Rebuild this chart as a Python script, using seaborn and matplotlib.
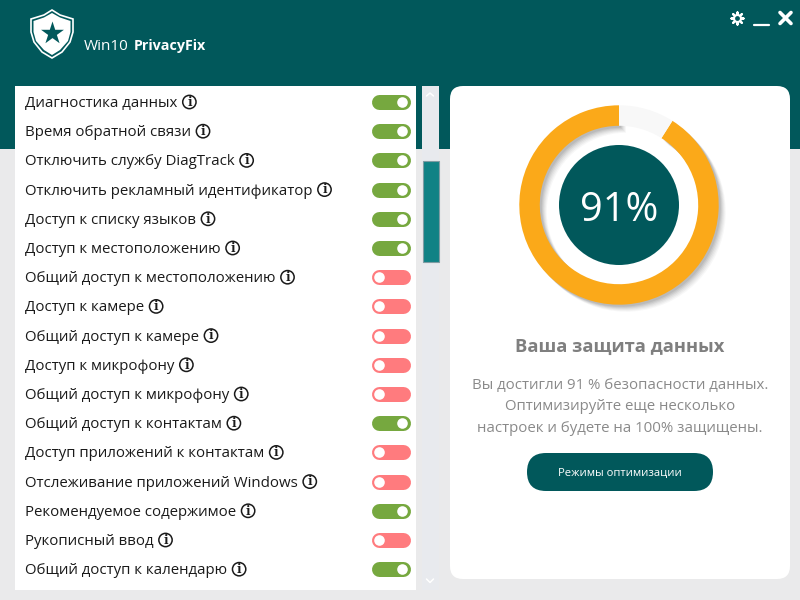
import pandas as pd
import seaborn as sns
import matplotlib.pyplot as plt
from matplotlib.patches import FancyBboxPatch, Polygon, Rectangle, Circle

# Data
SETTINGS = [
    "Диагностика данных",
    "Время обратной связи",
    "Отключить службу DiagTrack",
    "Отключить рекламный идентификатор",
    "Доступ к списку языков",
    "Доступ к местоположению",
    "Общий доступ к местоположению",
    "Доступ к камере",
    "Общий доступ к камере",
    "Доступ к микрофону",
    "Общий доступ к микрофону",
    "Общий доступ к контактам",
    "Доступ приложений к контактам",
    "Отслеживание приложений Windows",
    "Рекомендуемое содержимое",
    "Рукописный ввод",
    "Общий доступ к календарю",
]
ENABLED = [1, 1, 1, 1, 1, 1, 0, 0, 0, 0, 0, 1, 0, 0, 1, 0, 1]
SCORE = [91, 9]
SCORE_LABEL = "91%"
BODY_LINES = [
    "Вы достигли 91 % безопасности данных.",
    "Оптимизируйте еще несколько",
    "настроек и будете на 100% защищены.",
]

TEAL = "#01585B"
ORANGE = "#FBA919"
GREEN = "#76A83F"
RED = "#FF7B7E"
GREY_BG = "#EAEAEB"
TRACK = "#E8EAEE"
THUMB = "#108285"
TEXT_GREY = "#7F7F7F"

sns.set_theme(style="white")
plt.rcParams["font.family"] = ["Open Sans", "Noto Sans", "DejaVu Sans"]

fig = plt.figure(figsize=(8, 6), dpi=100, facecolor=GREY_BG)

# Background layer, in screen pixels
bg = fig.add_axes([0, 0, 1, 1], zorder=0)
bg.set_xlim(0, 800)
bg.set_ylim(600, 0)
bg.axis("off")
bg.add_patch(Rectangle((0, 0), 800, 149, color=TEAL, lw=0))
bg.add_patch(Rectangle((15, 86), 401, 504, color="white", lw=0))
bg.add_patch(Rectangle((422, 86), 17, 504, color=TRACK, lw=0))
bg.add_patch(Rectangle((422.5, 161), 16.5, 101, facecolor=THUMB, edgecolor="#7F9CA3", lw=0.8))
bg.add_patch(FancyBboxPatch((462, 98), 316, 469, boxstyle="round,pad=12,rounding_size=13",
                            facecolor="white", edgecolor="none"))

# Scroll arrows
bg.plot([426.5, 430, 433.5], [96, 93, 96], color="white", lw=1.1)
bg.plot([426.5, 430, 433.5], [579, 582.5, 579], color="white", lw=1.1)

# Logo
shield = [(52, 10), (60, 15), (73, 19), (73, 32), (70, 42), (62, 52), (52, 58),
          (42, 52), (34, 42), (31, 32), (31, 19), (44, 15)]
inner = [(52, 13), (60, 17.5), (70.5, 21), (70.5, 32), (68, 41), (60, 50), (52, 55),
         (44, 50), (36, 41), (33.5, 32), (33.5, 21), (44, 17.5)]
bg.add_patch(Polygon(shield, closed=True, facecolor="none", edgecolor="white", lw=1.2))
bg.add_patch(Polygon(inner, closed=True, facecolor="white", edgecolor="none"))
bg.scatter([52], [33], marker="*", s=300, color=TEAL, lw=0, zorder=4)
bg.text(84, 46, "Win10", color="white", fontsize=11, va="center")
bg.text(134, 46, "PrivacyFix", color="white", fontsize=10.3, va="center", fontweight="bold")

# Window buttons
bg.scatter([737], [18], s=75, marker=(8, 2, 0), color="white", lw=1.6, zorder=3)
bg.scatter([737], [18], s=42, marker="o", color="white", lw=0, zorder=4)
bg.scatter([737], [18], s=12, marker="o", color=TEAL, lw=0, zorder=5)
bg.plot([754, 769], [24.5, 24.5], color="white", lw=1.6)
bg.plot([780, 791], [12.5, 23.5], color="white", lw=2.6)
bg.plot([780, 791], [23.5, 12.5], color="white", lw=2.6)

# Right card text
bg.text(620, 347, "Ваша защита данных", color=TEXT_GREY, fontsize=13.2,
        fontweight="bold", ha="center", va="center")
for line, y in zip(BODY_LINES, [386, 407, 428]):
    bg.text(620, y, line, color="#8A8A8A", fontsize=10.8, ha="center", va="center")
bg.add_patch(FancyBboxPatch((546, 472), 148, 0, boxstyle="round,pad=19,rounding_size=19",
                            facecolor=TEAL, edgecolor="none"))
bg.text(620, 473, "Режимы оптимизации", color="white", fontsize=8.15, ha="center", va="center")

# Settings list: y axis counts rows
settings = pd.DataFrame({"label": SETTINGS, "enabled": ENABLED})
settings["row"] = settings.index
ROW_H = 29.2
lst = fig.add_axes([15 / 800, 10 / 600, 401 / 800, 504 / 600], zorder=2)
lst.patch.set_alpha(0)
lst.axis("off")

pills = pd.concat([settings.assign(x=379), settings.assign(x=402.5)])
sns.lineplot(data=pills, x="x", y="row", hue="enabled", units="label", estimator=None,
             sort=False, palette={1: GREEN, 0: RED}, lw=10.8, solid_capstyle="round",
             legend=False, ax=lst)
knobs = settings.assign(x=settings["enabled"].map({1: 402.3, 0: 379.3}))
sns.scatterplot(data=knobs, x="x", y="row", color="white", s=58, lw=0, legend=False, ax=lst, zorder=5)
lst.set_xlim(15, 416)
lst.set_ylim((590 - 102) / ROW_H, (86 - 102) / ROW_H)
lst.set_xlabel("")
lst.set_ylabel("")

fig.canvas.draw()
px_to_data = lst.transData.inverted()
for row in settings.itertuples():
    t = lst.text(25, row.row + 0.05, row.label, color="#1A1A1A", fontsize=10.8, va="center")
    bbox = t.get_window_extent()
    icon_x = px_to_data.transform((bbox.x1 + 12, 0))[0]
    lst.scatter([icon_x], [row.row], s=92, facecolor="none", edgecolor="#1A1A1A", lw=1.1, zorder=4)
    lst.text(icon_x, row.row + 0.01, "i", color="#1A1A1A", fontsize=8.5, fontweight="bold",
             family="DejaVu Serif", ha="center", va="center")

# Donut
R = 99.7
box = 125
donut = fig.add_axes([(619 - box) / 800, 1 - (205 + box) / 600, 2 * box / 800, 2 * box / 600], zorder=3)
for k, alpha in [(7, 0.04), (6, 0.05), (5, 0.06), (4, 0.08), (3, 0.09), (2, 0.1)]:
    donut.pie(SCORE, startangle=90, radius=R, center=(k, -k),
              colors=["#444444", "none"], wedgeprops={"width": 20.5, "lw": 0, "alpha": alpha})
donut.pie(SCORE, startangle=90, radius=R, colors=[ORANGE, "#F8F8F8"],
          wedgeprops={"width": 20.5, "lw": 0})
donut.add_patch(Circle((0, 0), 60, color=TEAL, lw=0))
donut.text(0, -6, SCORE_LABEL, color="white", fontsize=28.5, ha="center", va="center")
donut.set_xlim(-box, box)
donut.set_ylim(-box, box)

fig.savefig("out.png", dpi=100, facecolor=GREY_BG)
plt.close(fig)
